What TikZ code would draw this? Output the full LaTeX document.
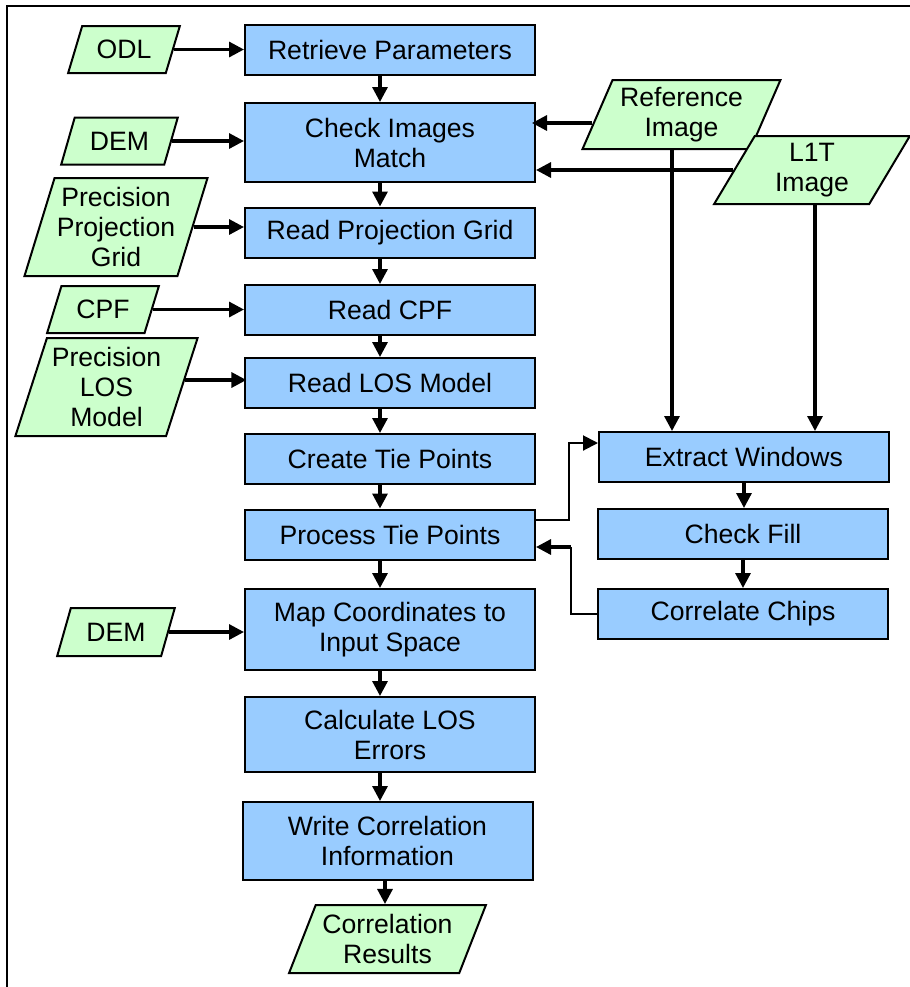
\documentclass[tikz,border=0pt]{standalone}
\usepackage{fontspec}
\setmainfont{Liberation Sans}
\usetikzlibrary{shapes.geometric,arrows.meta}
\definecolor{procblue}{HTML}{99CCFF}
\definecolor{datagreen}{HTML}{CCFFCC}

\begin{document}
\begin{tikzpicture}[x=.5pt, y=-.5pt,
		box/.style={draw, line width=1pt, fill=procblue, minimum width=145pt, minimum height=25pt,
			inner sep=0pt, align=center, font=\fontsize{13.3}{15}\selectfont},
		data/.style={trapezium, trapezium left angle=64, trapezium right angle=116, trapezium stretches=true,
			draw, line width=1pt, fill=datagreen, inner sep=0pt, align=center, font=\fontsize{13.3}{15}\selectfont},
		tall/.style={trapezium left angle=70, trapezium right angle=110},
		flow/.style={line width=1.6pt, -{Triangle[length=7.5pt, width=7.5pt]}},
		link/.style={line width=1pt}]
				\useasboundingbox (0,0) rectangle (910,987);
				\draw[line width=1pt] (7,1000) -- (7,6) -- (920,6);
				% processing steps
				\node[box] (ret) at (390,50) {Retrieve Parameters};
				\node[box, minimum height=39.5pt] (chk) at (390,142.5) {Check Images\\Match};
				\node[box] (rpg) at (390,232.5) {Read Projection Grid};
				\node[box] (rcpf) at (390,310) {Read CPF};
				\node[box] (rlos) at (390,383) {Read LOS Model};
				\node[box] (ctp) at (390,459) {Create Tie Points};
				\node[box] (ptp) at (390,534.5) {Process Tie Points};
				\node[box, minimum height=40.5pt] (map) at (390,629.5) {Map Coordinates to\\Input Space};
				\node[box, minimum height=37.5pt] (err) at (390,734.5) {Calculate LOS\\Errors};
				\node[box, minimum height=39pt] (wci) at (387.5,841) {Write Correlation\\Information};
				\node[box] (ext) at (744,457) {Extract Windows};
				\node[box] (chf) at (743,534) {Check Fill};
				\node[box] (ccp) at (743,614) {Correlate Chips};
				% inputs and output
				\node[data, minimum width=56pt, minimum height=23.5pt] (odl) at (124,49.5) {ODL};
				\node[data, minimum width=58.5pt, minimum height=23.5pt] (dem) at (119.5,141) {DEM};
				\node[data, tall, minimum width=92pt, minimum height=49pt] (ppg) at (116,227) {Precision\\Projection\\Grid};
				\node[data, minimum width=56pt, minimum height=23.5pt] (cpf) at (103,309.5) {CPF};
				\node[data, tall, minimum width=91.5pt, minimum height=49pt] (plos) at (106.5,387) {Precision\\LOS\\Model};
				\node[data, minimum width=59pt, minimum height=24pt] (demb) at (116,632) {DEM};
				\node[data, minimum width=99.5pt, minimum height=34.5pt] (ref) at (681.5,114.5) {Reference\\Image};
				\node[data, minimum width=98pt, minimum height=34pt] (lit) at (812,170) {L1T\\Image};
				\node[data, minimum width=98.5pt, minimum height=34pt] (res) at (387.5,939) {Correlation\\Results};
				% main flow
				\foreach \a/\b in {ret/chk, chk/rpg, rpg/rcpf, rcpf/rlos, rlos/ctp, ctp/ptp, ptp/map, map/err, err/wci} {
					\draw[flow] ([xshift=-5pt]\a.south) -- ([xshift=-5pt]\a.south |- \b.north);
				}
				\draw[flow] ([xshift=-1.25pt]wci.south) -- ([xshift=-1.25pt]wci.south |- res.north);
				\draw[flow] (ext.south) -- (ext.south |- chf.north);
				\draw[flow] (chf.south) -- (chf.south |- ccp.north);
				% inputs
				\draw[flow] (odl.east) -- (odl.east -| ret.west);
				\draw[flow] (dem.east) -- (dem.east -| chk.west);
				\draw[flow] (ppg.east) -- (ppg.east -| rpg.west);
				\draw[flow] (cpf.east) -- (cpf.east -| rcpf.west);
				\draw[flow] ([shift={(1.2pt,3.5pt)}]plos.east) -- ([shift={(1.2pt,3.5pt)}]plos.east -| rlos.west);
				\draw[flow] (demb.east) -- (demb.east -| map.west);
				\draw[flow] ([shift={(-2pt,-4.25pt)}]ref.west) -- ([shift={(-2pt,-4.25pt)}]ref.west -| chk.east);
				\draw[flow] (lit.west) -- (lit.west -| chk.east);
				\draw[flow] ([xshift=-4.75pt]ref.south) -- ([xshift=-4.75pt]ref.south |- ext.north);
				\draw[flow] ([xshift=1.5pt]lit.south) -- ([xshift=1.5pt]lit.south |- ext.north);
				% chip loop
				\draw[link, -{Triangle[length=7.5pt, width=7.5pt]}] ([yshift=7.25pt]ptp.east) -- ++(16.5pt,0) |- ([yshift=7pt]ext.west);
				\draw[link] (ccp.west) -| ([shift={(17.5pt,-6.25pt)}]ptp.east) coordinate (back);
				\draw[flow] (back) -- ([yshift=-6.25pt]ptp.east);
\end{tikzpicture}
\end{document}
